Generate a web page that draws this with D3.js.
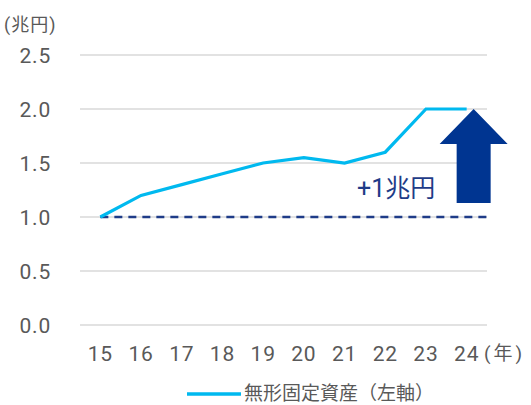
<!DOCTYPE html>
<html>
<head>
<meta charset="utf-8">
<script src="https://cdn.jsdelivr.net/npm/d3@7"></script>
<style>
  body { margin: 0; background: #fff; }
  text { font-family: Roboto, "Noto Sans CJK JP", sans-serif; }
</style>
</head>
<body>
<div id="viz"></div>
<script>
// ====================
// DATA
// ====================
const years = ['15', '16', '17', '18', '19', '20', '21', '22', '23', '24'];
const intangibleAssets = [1.0, 1.2, 1.3, 1.4, 1.5, 1.55, 1.5, 1.6, 2.0, 2.0];
const yTicks = [0, 0.5, 1.0, 1.5, 2.0, 2.5];
const baseline = 1.0;
const seriesName = '無形固定資産（左軸）';
const unitLabel = '(兆円)';
const yearLabel = '(年)';
const annotation = '+1兆円';

// ====================
// SETUP
// ====================
const width = 531;
const height = 405;
const margin = { left: 80, right: 44, top: 55, bottom: 80 };

const svg = d3.select('#viz').append('svg')
  .attr('width', width)
  .attr('height', height);

const x = d3.scaleBand()
  .domain(years)
  .range([margin.left, width - margin.right]);

const y = d3.scaleLinear()
  .domain([0, 2.5])
  .range([height - margin.bottom, margin.top]);

const xc = (d) => x(d) + x.bandwidth() / 2;

// Gridlines
svg.append('g')
  .selectAll('line')
  .data(yTicks)
  .join('line')
  .attr('x1', margin.left)
  .attr('x2', width - margin.right)
  .attr('y1', (d) => y(d))
  .attr('y2', (d) => y(d))
  .attr('stroke', '#d9d9d9')
  .attr('stroke-width', 1.3);

// Y tick labels
svg.append('g')
  .selectAll('text')
  .data(yTicks)
  .join('text')
  .attr('x', 51)
  .attr('y', (d) => y(d))
  .attr('dy', '0.36em')
  .attr('text-anchor', 'end')
  .attr('font-size', 21)
  .attr('letter-spacing', 0.8)
  .attr('fill', '#595959')
  .text((d) => d.toFixed(1));

svg.append('text')
  .attr('x', 4)
  .attr('y', 31)
  .attr('font-size', 18)
  .attr('letter-spacing', 1)
  .attr('fill', '#595959')
  .text(unitLabel);

// X labels
svg.append('g')
  .selectAll('text')
  .data(years)
  .join('text')
  .attr('x', (d) => xc(d))
  .attr('y', 361)
  .attr('text-anchor', 'middle')
  .attr('font-size', 21)
  .attr('letter-spacing', 0.8)
  .attr('fill', '#595959')
  .text((d) => d);

svg.append('text')
  .attr('x', 484)
  .attr('y', 360)
  .attr('font-size', 19)
  .attr('letter-spacing', 3)
  .attr('fill', '#595959')
  .text(yearLabel);

// Baseline dashed
svg.append('line')
  .attr('x1', xc(years[0]))
  .attr('x2', width - margin.right)
  .attr('y1', y(baseline))
  .attr('y2', y(baseline))
  .attr('stroke', '#1f3c88')
  .attr('stroke-width', 2.4)
  .attr('stroke-dasharray', '8,6');

// Series line
const line = d3.line()
  .x((d, i) => xc(years[i]))
  .y((d) => y(d));

svg.append('path')
  .datum(intangibleAssets)
  .attr('d', line)
  .attr('fill', 'none')
  .attr('stroke', '#00b9ef')
  .attr('stroke-width', 3.2);

// Arrow annotation
const last = years[years.length - 1];
const ax = xc(last) + 7;
const tipY = y(d3.max(intangibleAssets));
const headY = tipY + 35;
const bottomY = tipY + 94;
const arrow = d3.path();
arrow.moveTo(ax, tipY);
arrow.lineTo(ax + 34, headY);
arrow.lineTo(ax + 17, headY);
arrow.lineTo(ax + 17, bottomY);
arrow.lineTo(ax - 17, bottomY);
arrow.lineTo(ax - 17, headY);
arrow.lineTo(ax - 34, headY);
arrow.closePath();

svg.append('path')
  .attr('d', arrow.toString())
  .attr('fill', '#003591');

svg.append('text')
  .attr('x', 357)
  .attr('y', 197)
  .attr('font-size', 25)
  .attr('fill', '#1f3c88')
  .text(annotation);

// Legend
svg.append('line')
  .attr('x1', 187)
  .attr('x2', 241)
  .attr('y1', 394)
  .attr('y2', 394)
  .attr('stroke', '#00b9ef')
  .attr('stroke-width', 3.5);

svg.append('text')
  .attr('x', 244)
  .attr('y', 400)
  .attr('font-size', 19)
  .attr('fill', '#595959')
  .text(seriesName);
</script>
</body>
</html>
